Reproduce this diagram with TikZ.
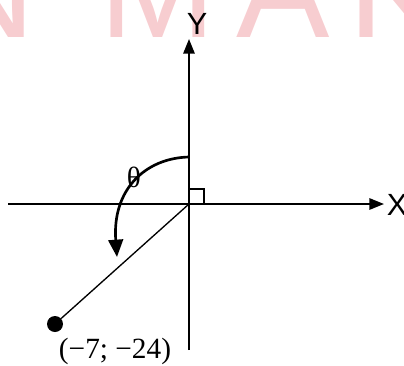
\documentclass[tikz,border=0pt]{standalone}
\usepackage{fontspec}
\setmainfont{Liberation Serif}
\setsansfont{Liberation Sans}
\usetikzlibrary{arrows.meta, positioning, calc}
\definecolor{wmpink}{HTML}{F7CDD0}
\tikzset{
  >={Triangle[length=11pt, width=8.5pt]},
  axisline/.style={line width=1.5pt, ->},
  rayline/.style={line width=1pt},
  anglearc/.style={line width=2pt, -{Triangle[length=13pt, width=11pt]}},
  axislab/.style={font=\sffamily\fontsize{23}{23}\selectfont, inner sep=0pt},
  ptlab/.style={font=\fontsize{22}{22}\selectfont, inner sep=0pt},
  dot/.style={circle, fill=black, inner sep=0pt, minimum size=12pt},
  wmark/.style={font=\sffamily\fontsize{105}{105}\selectfont, text=wmpink, inner sep=0pt, anchor=base}
}
\begin{document}
\begin{tikzpicture}[x=0.75pt, y=-0.75pt]
  \useasboundingbox (0,0) rectangle (404,365);
  % watermark
  \begin{scope}
    \clip (0,0) rectangle (404,365);
    \foreach \cx/\ch in {-15/N, 158/M, 283/A, 395/K}
      \node[wmark] at (\cx,37) {\ch};
  \end{scope}
  % axes
  \coordinate (O) at (189,204);
  \coordinate (xl) at (8,204);
  \coordinate (xr) at (384,204);
  \coordinate (yb) at (189,350);
  \coordinate (yt) at (189,39);
  \draw[axisline] (xl) -- (xr);
  \draw[axisline] (yb) -- (yt);
  \node[axislab] (X) at (397,205) {X};
  \node[axislab] (Y) at (197,24) {Y};
  % right angle mark
  \draw[line width=1pt] (189,189) rectangle (204,204);
  % point and ray
  \node[dot] (P) at (55,324) {};
  \draw[rayline] (O) -- (P);
  \node[ptlab] (Plab) at (115,351) {(−7; −24)};
  % angle
  \coordinate (a0) at (189,157);
  \coordinate (a1) at (117,257);
  \draw[anglearc] (a0) .. controls (145,158) and (112,190) .. (a1);
  \node[ptlab] (th) at (134,177) {θ};
\end{tikzpicture}
\end{document}
